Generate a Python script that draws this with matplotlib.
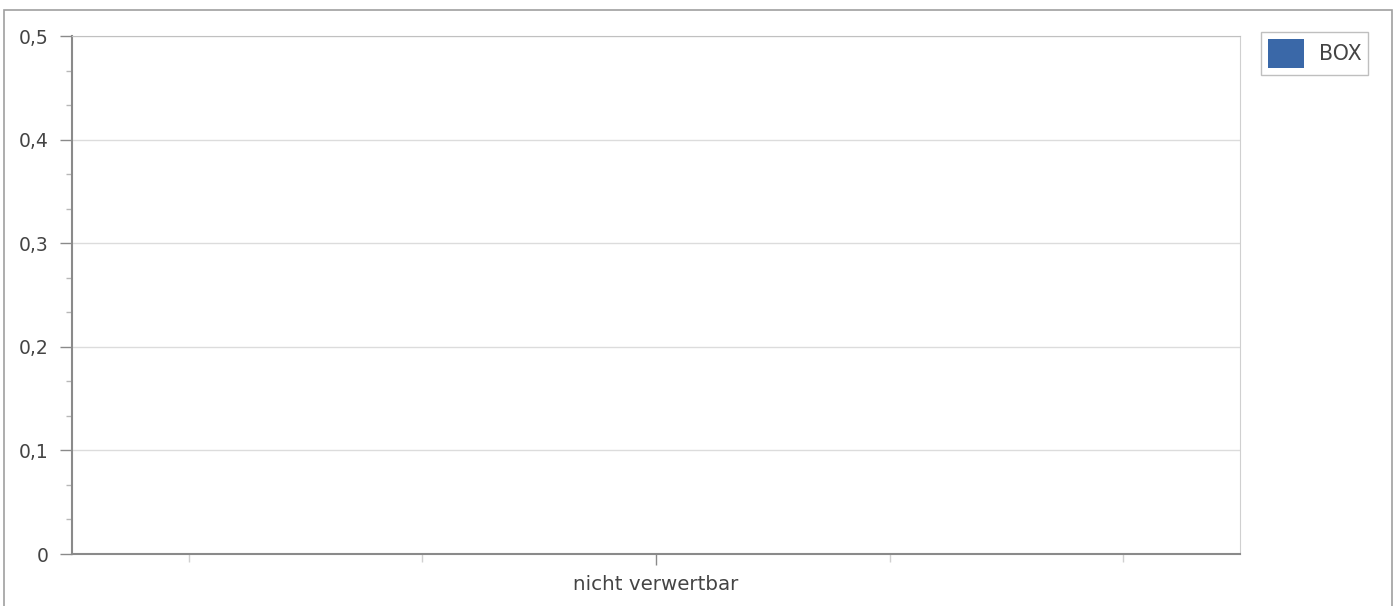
import matplotlib
matplotlib.use("Agg")
import matplotlib.pyplot as plt
from matplotlib.patches import Rectangle
from matplotlib.ticker import FixedLocator, FuncFormatter

plt.rcParams["font.family"] = ["DejaVu Sans"]

categories = ["nicht verwertbar"]
box_values = [0]
series_name = "BOX"
y_ticks = [0, 0.1, 0.2, 0.3, 0.4, 0.5]

W, H = 1397, 606
fig = plt.figure(figsize=(W / 100, H / 100), dpi=100)
fig.patch.set_facecolor("white")

# outer frame
fig.patches.append(Rectangle((4 / W, -0.05), (1392 - 4) / W, 1 - 10 / H + 0.05,
                             transform=fig.transFigure, fill=False,
                             edgecolor="#a0a0a0", linewidth=1.2))

ax = fig.add_axes([72 / W, 1 - 554 / H, (1240 - 72) / W, (554 - 36) / H])
x = list(range(len(categories)))
ax.bar(x, box_values, width=0.6, color="#3a68a8", label=series_name)

ax.set_xlim(-0.5, len(categories) - 0.5)
ax.set_ylim(0, 0.5)

ax.set_yticks(y_ticks)
ax.yaxis.set_major_formatter(FuncFormatter(lambda v, p: ("%g" % round(v, 2)).replace(".", ",")))
ax.yaxis.set_minor_locator(FixedLocator([i / 30 for i in range(16)]))
ax.set_xticks(x)
ax.set_xticklabels(categories)
ax.xaxis.set_minor_locator(FixedLocator([-0.4, -0.2, 0.2, 0.4]))

ax.tick_params(axis="y", which="major", length=9, width=1, color="#8a8a8a",
               labelsize=13.5, labelcolor="#444444", pad=8)
ax.tick_params(axis="y", which="minor", length=4, width=1, color="#b8b8b8")
ax.tick_params(axis="x", which="major", length=8, width=1, color="#8a8a8a",
               labelsize=14.3, labelcolor="#444444", pad=7)
ax.tick_params(axis="x", which="minor", length=6, width=1, color="#d0d0d0")

ax.grid(axis="y", which="major", color="#dcdcdc", linewidth=1)
ax.set_axisbelow(True)
for s in ["left", "bottom"]:
    ax.spines[s].set_color("#8a8a8a")
    ax.spines[s].set_linewidth(1.5)
ax.spines["top"].set_color("#c0c0c0")
ax.spines["right"].set_color("#d0d0d0")

leg = fig.legend(loc="upper left", bbox_to_anchor=(1261 / W, 1 - 32 / H),
                 fontsize=14.8, frameon=True, fancybox=False, handlelength=1.75,
                 handleheight=1.8, borderpad=0.35, handletextpad=0.7,
                 borderaxespad=0)
leg.get_frame().set_edgecolor("#b0b0b0")
leg.get_frame().set_linewidth(1)
for t in leg.get_texts():
    t.set_color("#444444")

fig.savefig("out.png", dpi=100)
